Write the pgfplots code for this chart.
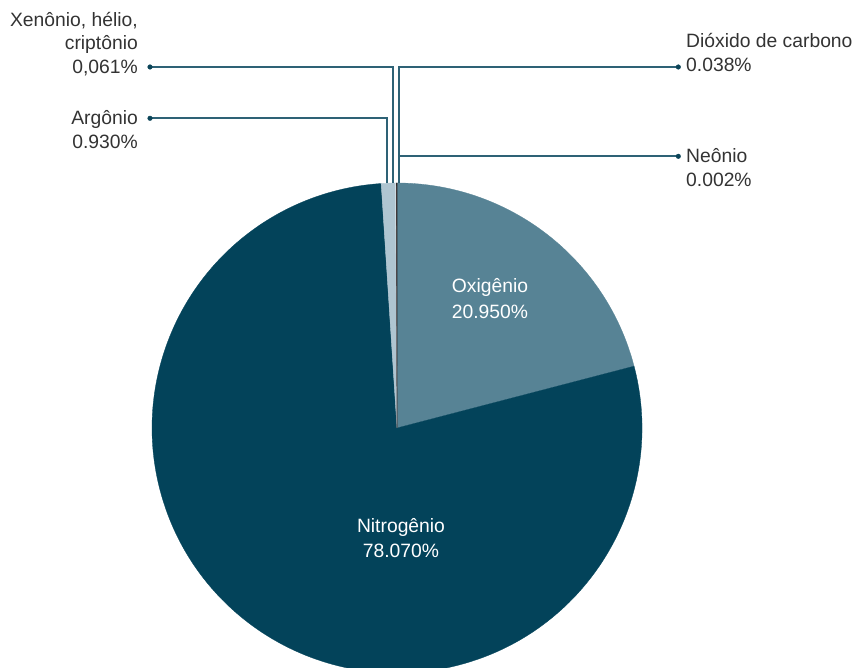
\documentclass[border=0pt]{standalone}
\usepackage{pgfplots}
\pgfplotsset{compat=1.18}
\usepackage{pgfplotstable}
\usepackage{fontspec}
\setmainfont{Liberation Sans}

\definecolor{oxy}{HTML}{578395}
\definecolor{nit}{HTML}{03435A}
\definecolor{arg}{HTML}{AFC5D1}
\definecolor{xen}{HTML}{D3DFE6}
\definecolor{cotwo}{HTML}{3A2B2B}
\definecolor{neo}{HTML}{1F1F1F}
\definecolor{leader}{HTML}{2E6276}
\definecolor{dotc}{HTML}{0B4458}
\definecolor{txt}{HTML}{333333}

% share of each gas, clockwise from 12 o'clock
\pgfplotstableread{
gas value colour
Oxigenio 20.950 oxy
Nitrogenio 78.070 nit
Argonio 0.930 arg
Xenonio 0.061 xen
Dioxido 0.038 cotwo
Neonio 0.002 neo
}\gases

\begin{document}
\begin{tikzpicture}[every node/.style={inner sep=0pt, font=\fontsize{19.3}{22}\selectfont, text=txt}]
\begin{axis}[
    x=1pt, y=1pt,
    xmin=0, xmax=860, ymin=0, ymax=668,
    scale only axis,
    hide axis,
    clip=true,
]
\pgfmathsetmacro{\total}{100.051}
\def\cum{0}
\pgfplotsforeachungrouped \i in {0,...,5}{
    \pgfplotstablegetelem{\i}{value}\of\gases
    \let\sliceval\pgfplotsretval
    \pgfplotstablegetelem{\i}{colour}\of\gases
    \let\slicecol\pgfplotsretval
    \pgfmathsetmacro{\angA}{90-\cum/\total*360}
    \pgfmathsetmacro{\angB}{90-(\cum+\sliceval)/\total*360}
    \pgfmathsetmacro{\cum}{\cum+\sliceval}
    \edef\slice{\noexpand\fill[\slicecol, draw=\slicecol, line width=0.3pt]
        (axis cs:397,240) -- (axis cs:{397+245*cos(\angA)},{240+245*sin(\angA)})
        arc[start angle=\angA, end angle=\angB, radius=245pt] -- cycle;}
    \slice
}

% leader lines
\addplot[leader, line width=1.6pt] coordinates {(150,601) (392.7,601) (392.7,485)};
\addplot[leader, line width=1.6pt] coordinates {(150,549.7) (386.7,549.7) (386.7,485)};
\addplot[leader, line width=1.6pt] coordinates {(678.3,601) (399,601) (399,485)};
\addplot[leader, line width=1.6pt] coordinates {(678.3,511.7) (399,511.7)};
\addplot[only marks, mark=*, mark size=2.3pt, dotc] coordinates {(150,601) (150,549.7) (678.3,601) (678.3,511.7)};

% labels outside
\node[anchor=base east] at (axis cs:138,641) {Xenônio, hélio,};
\node[anchor=base east] at (axis cs:138,618) {criptônio};
\node[anchor=base east] at (axis cs:138,594) {0,061\%};
\node[anchor=base east] at (axis cs:138,543) {Argônio};
\node[anchor=base east] at (axis cs:138,519) {0.930\%};
\node[anchor=base west] at (axis cs:686,620) {Dióxido de carbono};
\node[anchor=base west] at (axis cs:686,596) {0.038\%};
\node[anchor=base west] at (axis cs:686,505) {Neônio};
\node[anchor=base west] at (axis cs:686,481) {0.002\%};

% labels inside
\node[anchor=base, text=white] at (axis cs:490,375) {Oxigênio};
\node[anchor=base, text=white] at (axis cs:490,349) {20.950\%};
\node[anchor=base, text=white] at (axis cs:401,135) {Nitrogênio};
\node[anchor=base, text=white] at (axis cs:401,110) {78.070\%};
\end{axis}
\pgfresetboundingbox
\useasboundingbox (current axis.south west) rectangle (current axis.north east);
\end{tikzpicture}
\end{document}
